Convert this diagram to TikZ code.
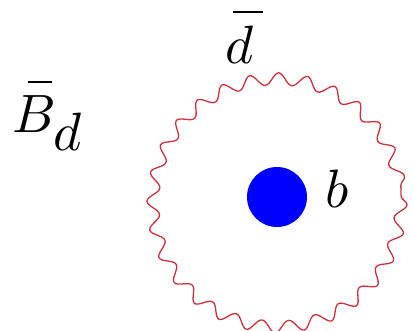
\documentclass[tikz,border=0pt]{standalone}
\usetikzlibrary{decorations.pathmorphing}
\definecolor{wavered}{RGB}{205,50,60}
\newcommand\barat[3]{\rlap{\kern#1\raise#2\hbox{\rule{#3}{0.045em}}}}
\begin{document}
\begin{tikzpicture}[x=1pt,y=-1pt,
  lbl/.style={inner sep=0pt,font=\normalsize,scale=5.4},
  gluon/.style={draw=wavered,line width=1.3pt,decorate,
    decoration={snake,amplitude=6pt,segment length={2*pi*124pt/28}}}]
\useasboundingbox (0,0) rectangle (414,330);
\coordinate (c) at (277,196);
\path[gluon] (c) circle[radius=124];
\node[circle,fill=blue,minimum size=60pt,inner sep=0pt] (quark) at (277,197) {};
\node[lbl,anchor=base] (dbar) at (240,63) {$\barat{0.13em}{0.92em}{0.55em}d$};
\node[lbl,anchor=base] (b) at (337,207) {$b$};
\node[lbl,anchor=base west] (Bd) at (11,132) {$\barat{0.3em}{0.9em}{0.43em}B_{\displaystyle d}$};
\end{tikzpicture}
\end{document}
